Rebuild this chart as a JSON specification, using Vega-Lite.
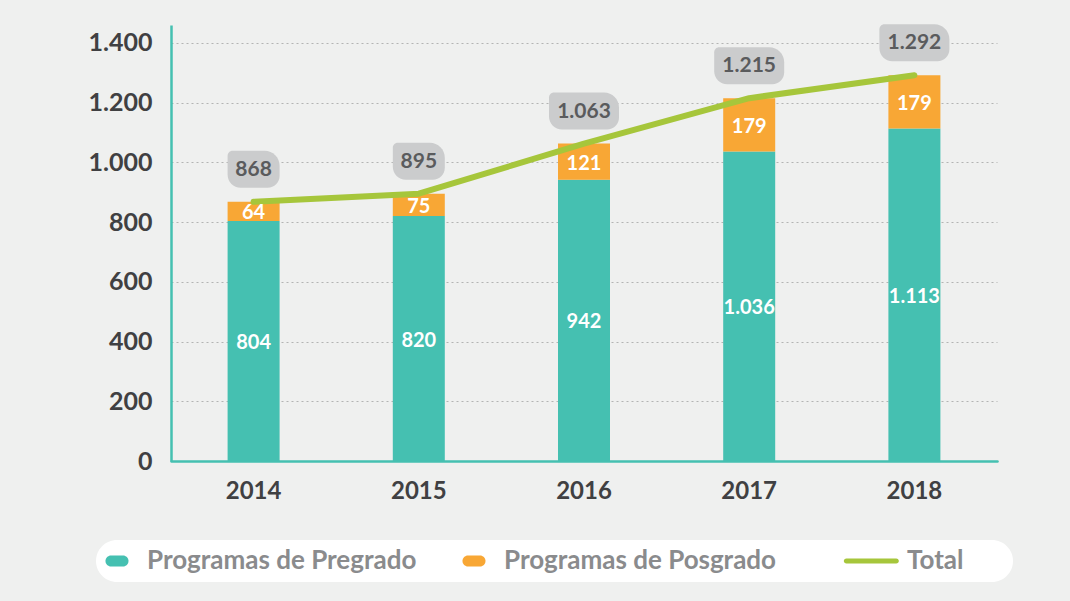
{
  "$schema": "https://vega.github.io/schema/vega-lite/v6.json",
  "width": 826,
  "height": 436,
  "autosize": "none",
  "padding": {"left": 171, "top": 25, "right": 73, "bottom": 140},
  "background": "#eff0ef",
  "datasets": {
    "comp": [
      {"year": "2014", "serie": "Programas de Pregrado", "value": 804},
      {"year": "2014", "serie": "Programas de Posgrado", "value": 64},
      {"year": "2015", "serie": "Programas de Pregrado", "value": 820},
      {"year": "2015", "serie": "Programas de Posgrado", "value": 75},
      {"year": "2016", "serie": "Programas de Pregrado", "value": 942},
      {"year": "2016", "serie": "Programas de Posgrado", "value": 121},
      {"year": "2017", "serie": "Programas de Pregrado", "value": 1036},
      {"year": "2017", "serie": "Programas de Posgrado", "value": 179},
      {"year": "2018", "serie": "Programas de Pregrado", "value": 1113},
      {"year": "2018", "serie": "Programas de Posgrado", "value": 179}
    ],
    "tot": [
      {"year": "2014", "total": 868},
      {"year": "2015", "total": 895},
      {"year": "2016", "total": 1063},
      {"year": "2017", "total": 1215},
      {"year": "2018", "total": 1292}
    ]
  },
  "config": {
    "locale": {"number": {"decimal": ",", "thousands": ".", "grouping": [3], "currency": ["$", ""]}},
    "view": {"stroke": null},
    "font": "Lato",
    "axis": {
      "labelFont": "Lato",
      "labelFontWeight": "bold",
      "labelFontSize": 24,
      "labelColor": "#404042",
      "ticks": false,
      "domainColor": "#45c0b1",
      "domainWidth": 2.5,
      "title": null
    }
  },
  "layer": [
    {
      "data": {"name": "comp"},
      "transform": [
        {"stack": "value", "groupby": ["year"], "sort": [{"field": "serie", "order": "descending"}], "as": ["y0", "y1"]}
      ],
      "mark": {"type": "bar", "width": 52},
      "encoding": {
        "x": {"field": "year", "type": "nominal", "scale": {"paddingInner": 0, "paddingOuter": 0}, "axis": {"labelAngle": 0, "labelPadding": 18, "domainCap": "round"}},
        "y": {"field": "y1", "type": "quantitative", "scale": {"domain": [0, 1460], "nice": false},
          "axis": {"values": [0, 200, 400, 600, 800, 1000, 1200, 1400], "format": ",d", "labelPadding": 19, "labelFontSize": 25, "grid": true, "gridDash": [2, 3], "gridColor": "#b3b4b3", "gridWidth": 1.2}},
        "y2": {"field": "y0"},
        "color": {
          "field": "serie", "type": "nominal",
          "scale": {"domain": ["Programas de Pregrado", "Programas de Posgrado", "Total"], "range": ["#45c0b1", "#f8a735", "#a6c63b"]},
          "legend": {
            "title": null,
            "orient": "none",
            "legendX": -75,
            "legendY": 515,
            "direction": "horizontal",
            "columns": 3,
            "columnPadding": 44,
            "fillColor": "#ffffff",
            "cornerRadius": 21,
            "padding": 8,
            "labelFont": "Lato",
            "labelFontWeight": "bold",
            "labelFontSize": 26,
            "labelColor": "#8a8b8d",
            "labelOffset": 17,
            "labelLimit": 400,
            "symbolSize": 576,
            "encode": {
              "symbols": {
                "update": {
                  "shape": {"signal": "datum.value === 'Total' ? 'M1.03,-0.21L5.19,-0.21A0.21,0.21 0 0 1 5.19,0.21L1.03,0.21A0.21,0.21 0 0 1 1.03,-0.21Z M14.25,0' : 'M-0.5,-0.46L0.5,-0.46A0.46,0.46 0 0 1 0.5,0.46L-0.5,0.46A0.46,0.46 0 0 1 -0.5,-0.46Z'"},
                  "fill": {"signal": "scale('color', datum.value)"},
                  "stroke": {"value": "transparent"},
                  "strokeWidth": {"value": 0},
                  "opacity": {"value": 1}
                }
              },
              "labels": {
                "update": {
                  "dx": {"signal": "datum.value === 'Total' ? 43 : 0"}
                }
              }
            }
          }
        }
      }
    },
    {
      "data": {"name": "tot"},
      "mark": {"type": "line", "strokeWidth": 6, "strokeCap": "round", "strokeJoin": "round"},
      "encoding": {
        "x": {"field": "year", "type": "nominal"},
        "y": {"field": "total", "type": "quantitative"},
        "color": {"datum": "Total"}
      }
    },
    {
      "data": {"name": "comp"},
      "transform": [
        {"stack": "value", "groupby": ["year"], "sort": [{"field": "serie", "order": "descending"}], "as": ["y0", "y1"]},
        {"calculate": "(datum.y0 + datum.y1) / 2", "as": "mid"}
      ],
      "mark": {"type": "text", "font": "Lato", "fontWeight": "bold", "fontSize": 20, "color": "#ffffff", "baseline": "middle", "dy": 2},
      "encoding": {
        "x": {"field": "year", "type": "nominal"},
        "y": {"field": "mid", "type": "quantitative"},
        "text": {"field": "value", "type": "quantitative", "format": ",d"}
      }
    },
    {
      "data": {"name": "tot"},
      "transform": [{"filter": "datum.total < 1000"}],
      "mark": {"type": "bar", "width": 52, "color": "#cbcccd", "yOffset": -51, "y2Offset": -14,
        "cornerRadiusTopLeft": 5, "cornerRadiusTopRight": 15, "cornerRadiusBottomLeft": 13, "cornerRadiusBottomRight": 12},
      "encoding": {
        "x": {"field": "year", "type": "nominal"},
        "y": {"field": "total", "type": "quantitative"},
        "y2": {"field": "total"}
      }
    },
    {
      "data": {"name": "tot"},
      "transform": [{"filter": "datum.total >= 1000"}],
      "mark": {"type": "bar", "width": 70, "color": "#cbcccd", "yOffset": -51, "y2Offset": -14,
        "cornerRadiusTopLeft": 5, "cornerRadiusTopRight": 15, "cornerRadiusBottomLeft": 13, "cornerRadiusBottomRight": 12},
      "encoding": {
        "x": {"field": "year", "type": "nominal"},
        "y": {"field": "total", "type": "quantitative"},
        "y2": {"field": "total"}
      }
    },
    {
      "data": {"name": "tot"},
      "mark": {"type": "text", "font": "Lato", "fontWeight": "bold", "fontSize": 21, "color": "#5a5b5d", "baseline": "middle", "yOffset": -32},
      "encoding": {
        "x": {"field": "year", "type": "nominal"},
        "y": {"field": "total", "type": "quantitative"},
        "text": {"field": "total", "type": "quantitative", "format": ",d"}
      }
    }
  ]
}
